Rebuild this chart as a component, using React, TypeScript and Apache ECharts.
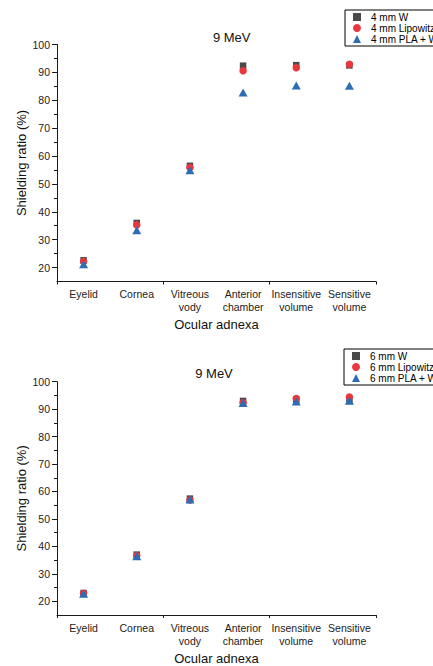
import React, { useEffect, useRef } from "react";
import * as echarts from "echarts";

const categories = ["Eyelid", "Cornea", "Vitreous\nvody", "Anterior\nchamber", "Insensitive\nvolume", "Sensitive\nvolume"];
const yMajorTicks = [20, 30, 40, 50, 60, 70, 80, 90, 100];
const yMinorTicks = [25, 35, 45, 55, 65, 75, 85, 95];

const w4 = [22.6, 36.0, 56.5, 92.4, 92.6, 92.5];
const lip4 = [22.2, 35.3, 55.9, 90.6, 91.7, 92.9];
const pla4 = [21.2, 33.4, 54.9, 82.8, 85.3, 85.2];

const w6 = [23.0, 37.0, 57.4, 93.0, 93.4, 93.0];
const lip6 = [22.9, 36.6, 56.9, 92.3, 93.9, 94.4];
const pla6 = [22.7, 36.4, 57.1, 92.2, 92.8, 93.1];

const names4 = ["4 mm W", "4 mm Lipowitz", "4 mm PLA + W"];
const names6 = ["6 mm W", "6 mm Lipowitz", "6 mm PLA + W"];

const FONT = "Liberation Sans, Arial, sans-serif";
const GREY = "#4a4a4a";
const RED = "#e8383d";
const BLUE = "#2e6db4";
const AXIS = "#1a1a1a";

export default function App() {
  const ref = useRef<HTMLDivElement>(null);
  useEffect(() => {
    if (!ref.current) return;
    const chart = echarts.init(ref.current, null, { renderer: "svg" });

    const mkX = (gi: number, labelMargin: number, nameGap: number) => [
      {
        type: "category",
        gridIndex: gi,
        data: categories,
        position: "bottom",
        boundaryGap: true,
        axisLine: { lineStyle: { color: AXIS, width: 1 } },
        axisTick: { alignWithLabel: true, length: 3, lineStyle: { color: AXIS } },
        axisLabel: { fontFamily: FONT, fontSize: 10.5, lineHeight: 13, color: "#222", margin: labelMargin, interval: 0 },
        name: "Ocular adnexa",
        nameLocation: "middle",
        nameGap: nameGap,
        nameMoveOverlap: false,
        nameTextStyle: { fontFamily: FONT, fontSize: 13, color: "#111" },
      },
      {
        type: "category",
        gridIndex: gi,
        data: categories,
        position: "bottom",
        boundaryGap: true,
        axisLine: { show: false },
        axisTick: { show: true, length: 3, lineStyle: { color: AXIS } },
        axisLabel: { show: false },
      },
    ];
    const mkY = (gi: number) => [
      {
        type: "value",
        gridIndex: gi,
        min: 15,
        max: 100,
        axisLine: { show: true, lineStyle: { color: AXIS, width: 1 } },
        axisTick: { show: true, length: 5, customValues: yMajorTicks, lineStyle: { color: AXIS } },
        axisLabel: { customValues: yMajorTicks, fontFamily: FONT, fontSize: 10.5, color: "#222", margin: 7 },
        splitLine: { show: false },
        name: "Shielding ratio (%)",
        nameLocation: "middle",
        nameGap: 29,
        nameMoveOverlap: false,
        nameTextStyle: { fontFamily: FONT, fontSize: 13, color: "#111" },
      },
      {
        type: "value",
        gridIndex: gi,
        min: 15,
        max: 100,
        position: "left",
        axisLine: { show: false },
        axisTick: { show: true, length: 3, customValues: yMinorTicks, lineStyle: { color: AXIS } },
        axisLabel: { show: false },
        splitLine: { show: false },
      },
    ];

    const mkSeries = (names: string[], data: number[][], axisBase: number) =>
      names.map((n, i) => ({
        name: n,
        type: "scatter",
        xAxisIndex: axisBase,
        yAxisIndex: axisBase,
        data: data[i],
        symbol: ["rect", "circle", "triangle"][i],
        symbolSize: [6.5, 7.5, [9, 8]][i],
        itemStyle: { color: [GREY, RED, BLUE][i], opacity: 1 },
      }));

    const mkLegend = (names: string[], left: number, top: number) => ({
      orient: "vertical",
      left,
      top,
      data: names.map((n, i) => ({ name: n, icon: ["rect", "circle", "triangle"][i] })),
      borderColor: "#000",
      borderWidth: 1,
      borderRadius: 0,
      padding: [2, 8, 2, 8],
      itemWidth: 8,
      itemHeight: 8,
      itemGap: 1,
      selectedMode: false,
      textStyle: { fontFamily: FONT, fontSize: 10, lineHeight: 10, color: "#000", padding: [0, 0, 0, 5] },
    });

    chart.setOption({
      animation: false,
      backgroundColor: "#fff",
      grid: [
        { left: 57, top: 44.5, width: 319, height: 237 },
        { left: 57, top: 381.7, width: 319, height: 236 },
      ],
      xAxis: [...mkX(0, 5.5, 36), ...mkX(1, 6.5, 37)],
      yAxis: [...mkY(0), ...mkY(1)],
      legend: [mkLegend(names4, 345, 10), mkLegend(names6, 344, 349)],
      graphic: [
        { type: "text", x: 231.7, y: 37, style: { text: "9 MeV", fontFamily: FONT, fontSize: 13, fill: "#111", textAlign: "center", textVerticalAlign: "middle" } },
        { type: "text", x: 214, y: 373.7, style: { text: "9 MeV", fontFamily: FONT, fontSize: 13, fill: "#111", textAlign: "center", textVerticalAlign: "middle" } },
      ],
      series: [...mkSeries(names4, [w4, lip4, pla4], 0), ...mkSeries(names6, [w6, lip6, pla6], 2)],
    });
    return () => chart.dispose();
  }, []);
  return <div ref={ref} style={{ position: "absolute", left: 0, top: 0, width: 433, height: 666 }} />;
}
